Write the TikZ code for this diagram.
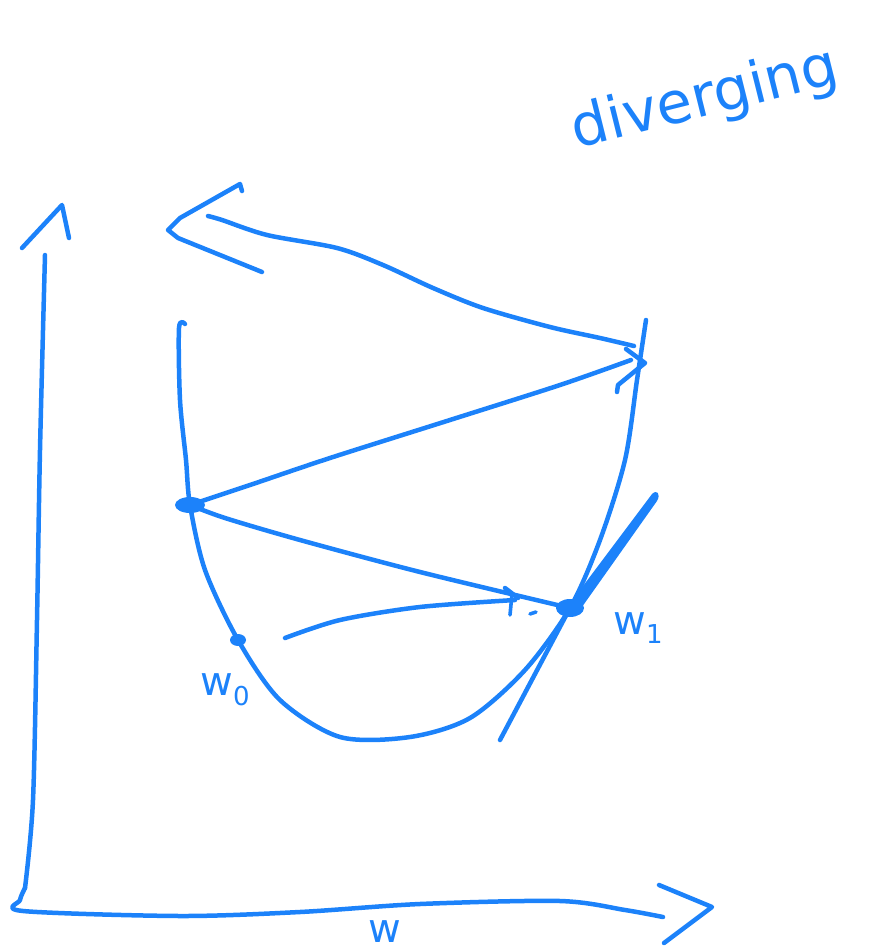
\documentclass[tikz,border=0pt]{standalone}
\usepackage{fontspec}
\setmainfont{DejaVu Sans}
\usetikzlibrary{arrows.meta}
\definecolor{pen}{RGB}{28,130,250}
\tikzset{
  ink/.style={draw=pen,line width=4.5pt,line cap=round,line join=round},
  thinink/.style={draw=pen,line width=3.6pt,line cap=round,line join=round},
  lbl/.style={text=pen,inner sep=0pt},
  dot/.style={fill=pen,draw=none}
}
\newcommand{\subtxt}[2]{#1\raisebox{-0.45ex}{\fontsize{26}{26}\selectfont #2}}
\begin{document}
\begin{tikzpicture}[x=1pt,y=-1pt]
\useasboundingbox (0,0) rectangle (874,950);
% key points
\coordinate (O) at (25,888);
\coordinate (A) at (190,505);
\coordinate (W0) at (238,640);
\coordinate (W1) at (570,608);
% y axis
\draw[ink] plot[smooth] coordinates {(O) (33,800) (37,620) (40,450) (45,255)};
\draw[ink] (22,248) -- (62,205) -- (69,238);
% x axis
\draw[ink] plot[smooth] coordinates {(O) (20,900) (23,911) (180,916) (300,912) (420,904) (560,901) (625,910) (663,917)};
\draw[ink] (659,885) -- (712,907) -- (664,943);
% parabola
\draw[ink] plot[smooth] coordinates {(185,324) (179,328) (180,400) (186,460) (A) (205,570) (W0) (280,700) (340,737) (410,737) (470,718) (525,670) (W1) (600,540) (625,460) (637,380) (646,320)};
% tangent line at w1
\draw[ink] (500,740) -- (W1);
\fill[pen] (565,610) -- (652,494) .. controls (657,489) and (661,494) .. (657,501) -- (577,614) -- cycle;
% dots
\fill[dot] (A) ellipse (15pt and 8pt);
\fill[dot] (W0) ellipse (8pt and 6pt);
\fill[dot] (W1) ellipse (14pt and 9pt);
% step from w0 towards w1
\draw[ink] plot[smooth] coordinates {(285,638) (340,620) (420,607) (515,600)};
\draw[ink] (505,588) -- (518,598);
\draw[thinink] (512,594) -- (510,615);
\draw[thinink] (530,614) -- (536,612);
% line from A to w1
\draw[ink] plot[smooth] coordinates {(A) (225,518) (300,540) (420,572) (W1)};
% line from A up to the right arrow
\draw[ink] plot[smooth] coordinates {(A) (250,485) (330,458) (450,420) (560,385) (631,360)};
\draw[ink] (626,349) -- (645,363) -- (618,385) -- (617,392);
% big return arrow
\draw[ink] plot[smooth] coordinates {(634,346) (600,338) (550,327) (483,308) (433,288) (383,265) (337,248) (267,235) (222,220) (208,216)};
\draw[ink] (242,191) -- (240,184) -- (180,218) -- (168,230) -- (178,238) -- (262,272);
% labels
\node[lbl,font=\fontsize{40}{40}\selectfont,anchor=center] (w0lbl) at (225,690) {\subtxt{w}{0}};
\node[lbl,font=\fontsize{40}{40}\selectfont,anchor=center] (w1lbl) at (638,628) {\subtxt{w}{1}};
\node[lbl,font=\fontsize{40}{40}\selectfont,anchor=base] (wlbl) at (385,942) {w};
\node[lbl,rotate=14,font=\fontsize{58}{58}\selectfont] (div) at (705,100) {diverging};
\end{tikzpicture}
\end{document}
